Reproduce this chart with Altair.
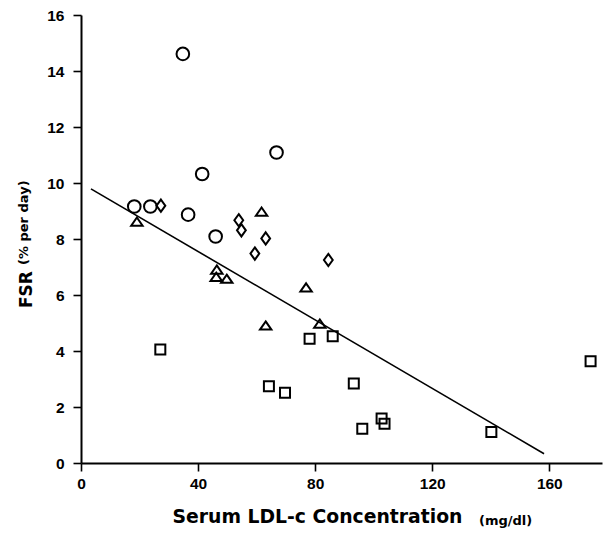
import altair as alt
import pandas as pd

# ---- data ----
circle_x = [34.8, 66.8, 41.4, 18.2, 23.7, 36.6, 46.0]
circle_y = [14.61, 11.09, 10.32, 9.16, 9.16, 8.87, 8.09]
diamond_x = [27.3, 53.9, 54.8, 63.1, 59.4, 84.5]
diamond_y = [9.19, 8.67, 8.31, 8.02, 7.48, 7.25]
triangle_x = [19.1, 61.7, 46.4, 46.2, 49.8, 76.9, 63.1, 81.6]
triangle_y = [8.62, 8.98, 6.91, 6.65, 6.58, 6.27, 4.91, 4.98]
square_x = [27.1, 64.2, 69.7, 78.1, 86.0, 93.2, 96.1, 102.7, 103.7, 140.2, 174.1]
square_y = [4.05, 2.74, 2.51, 4.44, 4.53, 2.84, 1.22, 1.59, 1.40, 1.11, 3.63]
line_x = [3.4, 158.2]
line_y = [9.79, 0.33]
x_ticks = [0, 40, 80, 120, 160]
y_ticks = [0, 2, 4, 6, 8, 10, 12, 14, 16]
x_title = ["Serum LDL-c Concentration", "(mg/dl)"]
y_title = ["FSR", "(% per day)"]

X_DOMAIN = [0, 178]
Y_DOMAIN = [0, 16]
W, H = 521, 448

xs = alt.Scale(domain=X_DOMAIN, nice=False, zero=False)
ys = alt.Scale(domain=Y_DOMAIN, nice=False, zero=False)

x_axis = alt.Axis(values=x_ticks, title=None, grid=False, labelPadding=5,
                  labelFontSize=15.5, labelFlush=False)
y_axis = alt.Axis(values=y_ticks, title=None, grid=False, labelPadding=9,
                  labelFontSize=15.5)


def pts(xv, yv, shape, size):
    df = pd.DataFrame({"x": xv, "y": yv})
    return alt.Chart(df).mark_point(
        shape=shape, size=size, filled=False, color="black",
        strokeWidth=2, opacity=1
    ).encode(
        x=alt.X("x:Q", scale=xs, axis=x_axis),
        y=alt.Y("y:Q", scale=ys, axis=y_axis),
    )


circles = pts(circle_x, circle_y, "circle", 160)
squares = pts(square_x, square_y, "square", 100)
diamonds = pts(diamond_x, diamond_y, "M0,-1L0.72,0L0,1L-0.72,0Z", 150)
triangles = pts(triangle_x, triangle_y, "M0,-0.72L1,0.72L-1,0.72Z", 130)

reg = alt.Chart(pd.DataFrame({"x": line_x, "y": line_y})).mark_line(
    color="black", strokeWidth=1.6
).encode(x=alt.X("x:Q", scale=xs, axis=x_axis), y=alt.Y("y:Q", scale=ys, axis=y_axis))

xt_main = alt.Chart(pd.DataFrame({"t": [x_title[0]]})).mark_text(
    align="left", baseline="alphabetic", font="DejaVu Sans", fontWeight="bold",
    fontSize=18.8, color="black"
).encode(x=alt.value(91.5), y=alt.value(508), text="t:N")
xt_unit = alt.Chart(pd.DataFrame({"t": [x_title[1]]})).mark_text(
    align="left", baseline="alphabetic", font="DejaVu Sans", fontWeight="bold",
    fontSize=13, color="black"
).encode(x=alt.value(398), y=alt.value(510), text="t:N")
yt_main = alt.Chart(pd.DataFrame({"t": [y_title[0]]})).mark_text(
    align="left", baseline="alphabetic", font="DejaVu Sans", fontWeight="bold",
    fontSize=17, angle=270, color="black"
).encode(x=alt.value(-49), y=alt.value(293), text="t:N")
yt_unit = alt.Chart(pd.DataFrame({"t": [y_title[1]]})).mark_text(
    align="left", baseline="alphabetic", font="DejaVu Sans", fontWeight="bold",
    fontSize=13, angle=270, color="black"
).encode(x=alt.value(-53), y=alt.value(250), text="t:N")

chart = alt.layer(
    reg, circles, diamonds, triangles, squares, xt_main, xt_unit, yt_main, yt_unit
).properties(
    width=W, height=H,
    autosize=alt.AutoSizeParams(type="none"),
    padding={"left": 81, "top": 15, "right": 1, "bottom": 79},
    background="white",
).configure_view(stroke=None).configure_axis(
    domainColor="black", domainWidth=2, tickColor="black", tickWidth=1.6,
    tickSize=8, labelFont="Liberation Sans", labelFontWeight="bold",
    labelColor="black",
)

chart.save("out.html", embed_options={"renderer": "svg", "actions": False})
